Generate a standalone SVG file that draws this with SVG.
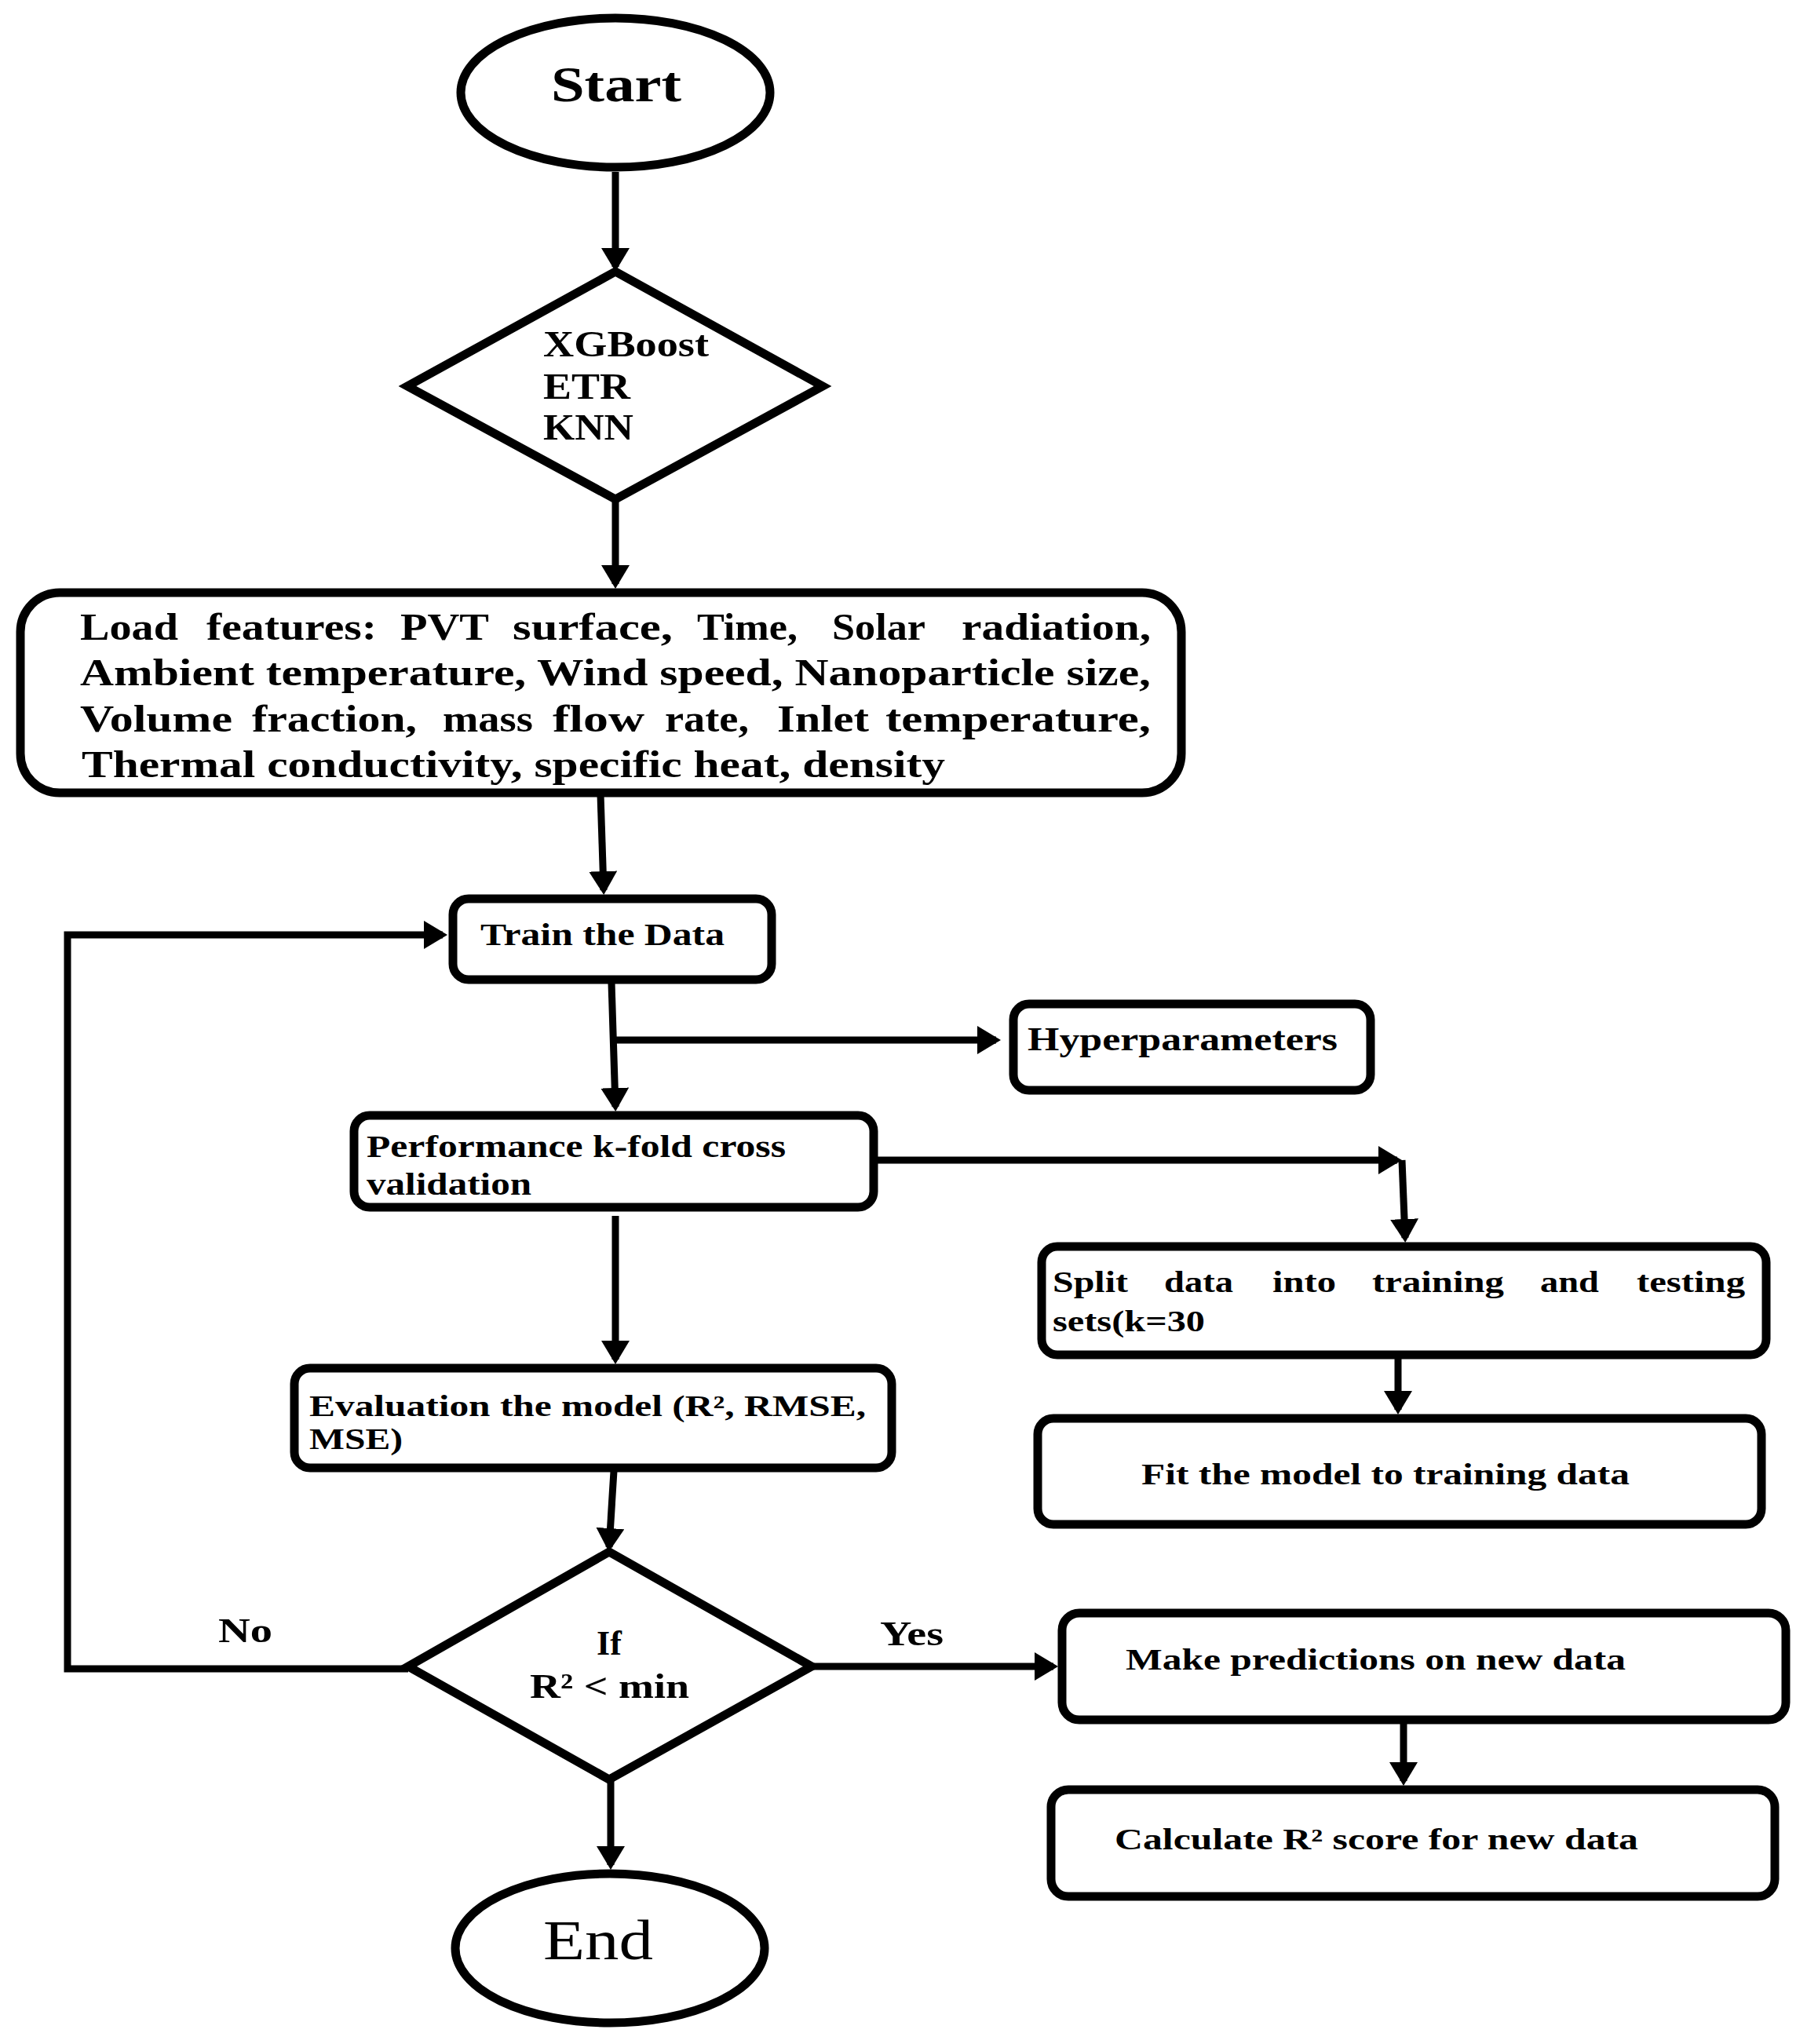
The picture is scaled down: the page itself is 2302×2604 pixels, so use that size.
<svg xmlns="http://www.w3.org/2000/svg" width="2302" height="2604" viewBox="0 0 2302 2604">
<style>
.shape{fill:#fff;stroke:#000;stroke-width:11}
.con{fill:none;stroke:#000;stroke-width:9}
text{font-family:"Liberation Serif","Times New Roman",serif;font-weight:bold;fill:#000}
.t48{font-size:48px}
.t40{font-size:40px}
.t38{font-size:38px}
.t44{font-size:44px}
</style>
<defs>
<marker id="ah" markerUnits="userSpaceOnUse" markerWidth="30" markerHeight="36" refX="24" refY="18" orient="auto">
<path d="M0,0 L30,18 L0,36 z" fill="#000"/>
</marker>
</defs>
<rect width="2302" height="2604" fill="#fff"/>
<g id="connectors">
<path class="con" d="M784,219 L784,340" marker-end="url(#ah)"/>
<path class="con" d="M784,636 L784,744" marker-end="url(#ah)"/>
<path class="con" d="M765,1012 L769,1134" marker-end="url(#ah)"/>
<path class="con" d="M779,1252 L784,1410" marker-end="url(#ah)"/>
<path class="con" d="M781,1325 L1269,1325" marker-end="url(#ah)"/>
<path class="con" d="M784,1549 L784,1732" marker-end="url(#ah)"/>
<path class="con" d="M1117,1478 L1780,1478" marker-end="url(#ah)"/>
<path class="con" d="M1786,1478 L1790,1577" marker-end="url(#ah)"/>
<path class="con" d="M1781,1731 L1781,1796" marker-end="url(#ah)"/>
<path class="con" d="M782,1874 L776,1971" marker-end="url(#ah)"/>
<path class="con" d="M778,2267 L778,2376" marker-end="url(#ah)"/>
<path class="con" d="M520,2126 L86,2126 L86,1191 L564,1191" marker-end="url(#ah)"/>
<path class="con" d="M1034,2123 L1342,2123" marker-end="url(#ah)"/>
<path class="con" d="M1788,2196 L1788,2269" marker-end="url(#ah)"/>
</g>
<g id="start">
<ellipse class="shape" cx="784" cy="118" rx="197" ry="95"/>
<text x="702" y="129" font-size="64" textLength="166" lengthAdjust="spacingAndGlyphs">Start</text>
</g>
<g id="models">
<polygon class="shape" points="784,346 1048,492 784,636 519,492"/>
<text x="692" y="454" font-size="46" textLength="211" lengthAdjust="spacingAndGlyphs">XGBoost</text>
<text x="692" y="508" font-size="46" textLength="111" lengthAdjust="spacingAndGlyphs">ETR</text>
<text x="692" y="560" font-size="46" textLength="115" lengthAdjust="spacingAndGlyphs">KNN</text>
</g>
<g id="load">
<rect class="shape" x="26" y="755" width="1479" height="255" rx="50"/>
<text class="t48" y="815">
<tspan x="102" textLength="125" lengthAdjust="spacingAndGlyphs">Load</tspan>
<tspan x="263" textLength="217" lengthAdjust="spacingAndGlyphs">features:</tspan>
<tspan x="510" textLength="112" lengthAdjust="spacingAndGlyphs">PVT</tspan>
<tspan x="653" textLength="204" lengthAdjust="spacingAndGlyphs">surface,</tspan>
<tspan x="888" textLength="128" lengthAdjust="spacingAndGlyphs">Time,</tspan>
<tspan x="1060" textLength="118" lengthAdjust="spacingAndGlyphs">Solar</tspan>
<tspan x="1225" textLength="241" lengthAdjust="spacingAndGlyphs">radiation,</tspan>
</text>
<text class="t48" x="102" y="873" textLength="1364" lengthAdjust="spacingAndGlyphs">Ambient temperature, Wind speed, Nanoparticle size,</text>
<text class="t48" y="932">
<tspan x="102" textLength="194" lengthAdjust="spacingAndGlyphs">Volume</tspan>
<tspan x="321" textLength="210" lengthAdjust="spacingAndGlyphs">fraction,</tspan>
<tspan x="564" textLength="115" lengthAdjust="spacingAndGlyphs">mass</tspan>
<tspan x="704" textLength="117" lengthAdjust="spacingAndGlyphs">flow</tspan>
<tspan x="847" textLength="107" lengthAdjust="spacingAndGlyphs">rate,</tspan>
<tspan x="990" textLength="117" lengthAdjust="spacingAndGlyphs">Inlet</tspan>
<tspan x="1128" textLength="338" lengthAdjust="spacingAndGlyphs">temperature,</tspan>
</text>
<text class="t48" x="104" y="990" textLength="1100" lengthAdjust="spacingAndGlyphs">Thermal conductivity, specific heat, density</text>
</g>
<g id="train">
<rect class="shape" x="577" y="1145" width="406" height="103" rx="20"/>
<text class="t40" x="612" y="1204" textLength="311" lengthAdjust="spacingAndGlyphs">Train the Data</text>
</g>
<g id="hyper">
<rect class="shape" x="1291" y="1279" width="455" height="110" rx="20"/>
<text x="1309" y="1338" font-size="42" textLength="395" lengthAdjust="spacingAndGlyphs">Hyperparameters</text>
</g>
<g id="perf">
<rect class="shape" x="451" y="1421" width="662" height="117" rx="20"/>
<text x="467" y="1474" font-size="39" textLength="534" lengthAdjust="spacingAndGlyphs">Performance k-fold cross</text>
<text x="467" y="1522" font-size="39" textLength="210" lengthAdjust="spacingAndGlyphs">validation</text>
</g>
<g id="split">
<rect class="shape" x="1327" y="1588" width="923" height="138" rx="20"/>
<text class="t38" y="1646">
<tspan x="1341" textLength="96" lengthAdjust="spacingAndGlyphs">Split</tspan>
<tspan x="1483" textLength="88" lengthAdjust="spacingAndGlyphs">data</tspan>
<tspan x="1621" textLength="81" lengthAdjust="spacingAndGlyphs">into</tspan>
<tspan x="1748" textLength="168" lengthAdjust="spacingAndGlyphs">training</tspan>
<tspan x="1962" textLength="75" lengthAdjust="spacingAndGlyphs">and</tspan>
<tspan x="2085" textLength="138" lengthAdjust="spacingAndGlyphs">testing</tspan>
</text>
<text class="t38" x="1341" y="1696" textLength="194" lengthAdjust="spacingAndGlyphs">sets(k=30</text>
</g>
<g id="fit">
<rect class="shape" x="1322" y="1807" width="922" height="135" rx="20"/>
<text class="t38" x="1454" y="1891" textLength="622" lengthAdjust="spacingAndGlyphs">Fit the model to training data</text>
</g>
<g id="eval">
<rect class="shape" x="375" y="1743" width="761" height="127" rx="20"/>
<text class="t38" x="394" y="1804" textLength="709" lengthAdjust="spacingAndGlyphs">Evaluation the model (R², RMSE,</text>
<text class="t38" x="394" y="1846" textLength="119" lengthAdjust="spacingAndGlyphs">MSE)</text>
</g>
<g id="decision">
<polygon class="shape" points="776,1977 1034,2123 776,2267 520,2123"/>
<text class="t44" x="776" y="2108" text-anchor="middle">If</text>
<text class="t44" x="675" y="2163" textLength="203" lengthAdjust="spacingAndGlyphs">R² &lt; min</text>
</g>
<g id="labels">
<text class="t44" x="278" y="2092" textLength="69" lengthAdjust="spacingAndGlyphs">No</text>
<text class="t44" x="1121" y="2096" textLength="81" lengthAdjust="spacingAndGlyphs">Yes</text>
</g>
<g id="predict">
<rect class="shape" x="1353" y="2055" width="922" height="136" rx="22"/>
<text class="t38" x="1434" y="2127" textLength="637" lengthAdjust="spacingAndGlyphs">Make predictions on new data</text>
</g>
<g id="calc">
<rect class="shape" x="1339" y="2280" width="922" height="136" rx="22"/>
<text class="t38" x="1420" y="2356" textLength="667" lengthAdjust="spacingAndGlyphs">Calculate R² score for new data</text>
</g>
<g id="end">
<ellipse class="shape" cx="777" cy="2482" rx="197" ry="95"/>
<text x="692" y="2496" font-size="72" style="font-weight:normal" textLength="140" lengthAdjust="spacingAndGlyphs">End</text>
</g>
</svg>
